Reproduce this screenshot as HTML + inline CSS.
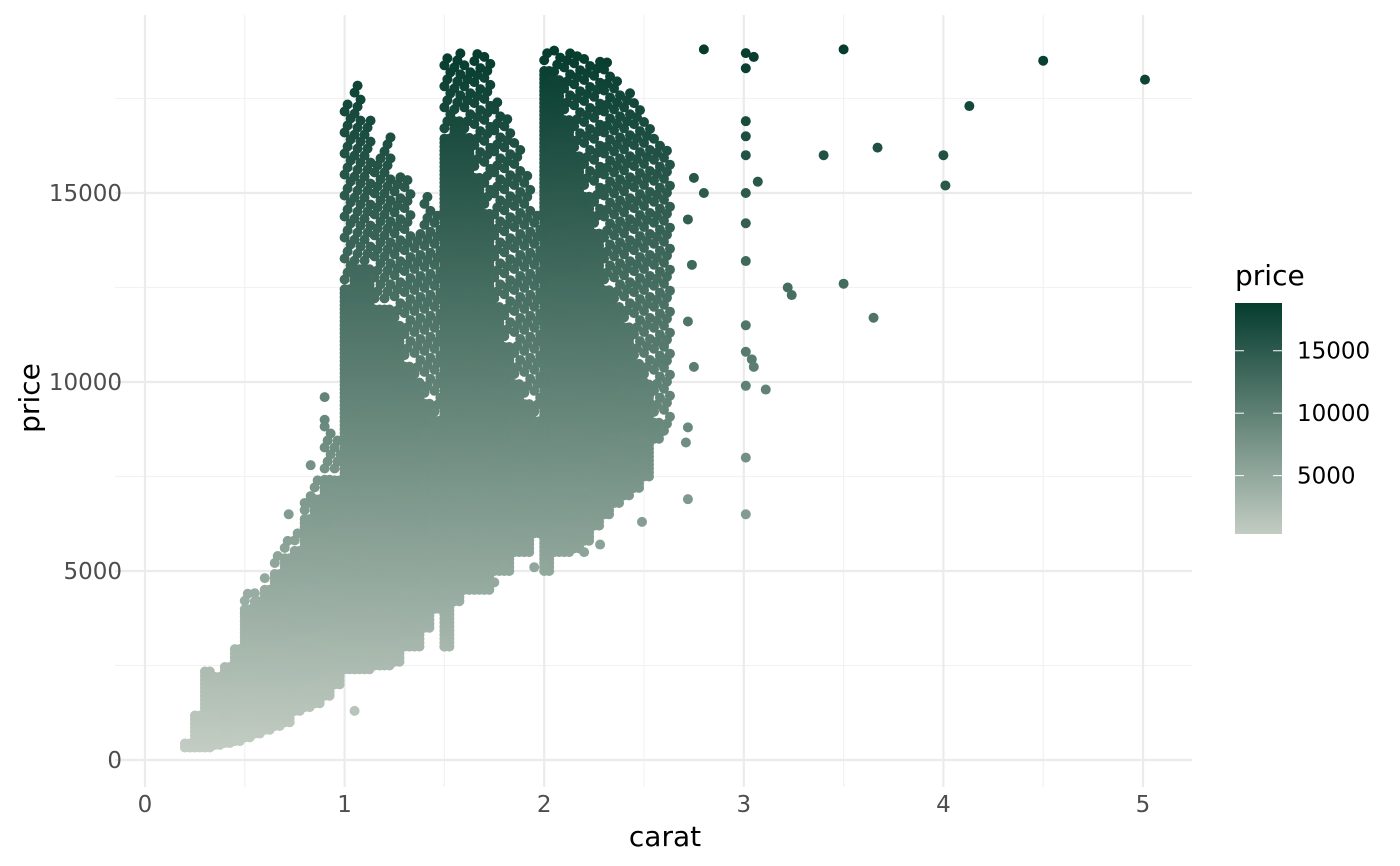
<!DOCTYPE html>
<html><head><meta charset="utf-8"><style>
html,body{margin:0;padding:0;background:#fff;}
svg{display:block;font-family:"DejaVu Sans","Liberation Sans",sans-serif;}
</style></head><body>
<svg id="chart" width="1400" height="866" viewBox="0 0 1400 866">
<defs><linearGradient id="lg" x1="0" y1="1" x2="0" y2="0"><stop offset="0" stop-color="#c2ccc2"/><stop offset="1" stop-color="#053c2e"/></linearGradient></defs>
<g id="grid"></g>
<g id="points"></g>
<g id="axes"></g>
<text x="665" y="846" font-size="28" text-anchor="middle" fill="#000">carat</text>
<text transform="translate(39,398) rotate(-90)" font-size="28" text-anchor="middle" fill="#000">price</text>
<g>
<text x="1235" y="285" font-size="28" fill="#000">price</text>
<rect x="1235" y="303" width="47" height="231" fill="url(#lg)"/>
<g id="legendTicks"></g>
</g>
</svg>
<script>
const xTicks=[0,1,2,3,4,5];
const yTicks=[0,5000,10000,15000];
const bandCarat=[0.2,0.25,0.3,0.35,0.4,0.45,0.5,0.55,0.6,0.65,0.7,0.75,0.8,0.85,0.9,0.95,1.0,1.05,1.1,1.15,1.2,1.25,1.3,1.35,1.4,1.45,1.5,1.55,1.6,1.65,1.7,1.75,1.8,1.85,1.9,1.95,2.0,2.05,2.1,2.15,2.2,2.25,2.3,2.35,2.4,2.45,2.5,2.55,2.6];
const bandMin=[330,330,330,400,450,500,600,700,800,900,1000,1300,1400,1500,1700,2000,2400,2400,2400,2500,2500,2600,3000,3000,3500,4000,3000,4200,4500,4500,4500,5000,5000,5500,5500,6000,5000,5500,5500,5600,5800,6200,6500,6800,7000,7200,7500,8500,9000];
const bandDenseMax=[500,1200,2400,2300,2500,3000,4000,4200,4600,5000,5400,5600,6400,7000,7500,7500,12500,13000,13000,12000,12000,11500,10500,10000,9500,9000,16500,17000,16500,15500,14500,12000,11000,10000,9500,9000,18300,18000,17000,16000,15000,14000,12500,12000,11500,10500,10000,9000,8500];
const bandMax=[500,1200,2400,2300,2500,3000,4400,4500,4900,5500,5800,6000,7000,7500,9000,8500,17500,18000,17000,16000,16500,15500,15500,14000,15000,14500,18700,18700,18500,18700,18700,17500,17000,16500,15500,14500,18800,18800,18800,18800,18700,18600,18500,18000,17800,17500,17000,16500,16300];
const outCarat=[3.01,3.01,3.05,3.5,4.5,5.01,4.13,3.4,3.67,4.0,4.01,3.22,3.24,3.5,3.65,3.01,3.01,3.01,3.01,3.01,3.04,3.05,3.11,3.01,3.01,3.01,2.8,2.75,2.8,2.72,2.74,2.72,2.75,2.72,2.71,2.72,2.49,3.01,3.01,3.01,3.07,2.6,2.6,2.5,2.45,2.5,2.5,2.5,2.33,2.3,2.2,2.28,2.2,2.0,1.95,1.8,1.75,1.5,1.05,0.9,0.9,0.83,0.72,0.8];
const outPrice=[18700,18300,18600,18800,18500,18000,17300,16000,16200,16000,15200,12500,12300,12600,11700,15000,14200,13200,11500,10800,10600,10400,9800,9900,8000,6500,18800,15400,15000,14300,13100,11600,10400,8800,8400,6900,6300,16900,16500,16000,15300,11000,10600,10000,9700,8700,8400,7900,8500,8200,7100,5700,5500,5100,5100,5100,4700,3000,1300,9600,9000,7800,6500,6800];
const legendTicks=[5000,10000,15000];
const pMin=326,pMax=18823;
const NS="http://www.w3.org/2000/svg";
const X=c=>145+c*199.6, Y=p=>760-p*0.0378;
const LY=p=>534-(p-pMin)/(pMax-pMin)*231;
function col(p){let t=Math.max(0,Math.min(1,(p-pMin)/(pMax-pMin)));const a=[194,204,194],b=[5,60,46];return `rgb(${a.map((v,i)=>Math.round(v+(b[i]-v)*t)).join(',')})`;}
function mk(tag,attrs,parent){const e=document.createElementNS(NS,tag);for(const k in attrs)e.setAttribute(k,attrs[k]);parent.appendChild(e);return e;}
const grid=document.getElementById('grid'),pts=document.getElementById('points'),axes=document.getElementById('axes');
for(let c=0.5;c<=5;c+=1){const l=mk('line',{x1:X(c),x2:X(c),y1:15,y2:787,stroke:'#f2f2f2','stroke-width':1.2},grid);}
for(let p=2500;p<=17500;p+=5000){const l=mk('line',{x1:115,x2:1192,y1:Y(p),y2:Y(p),stroke:'#f2f2f2','stroke-width':1.2},grid);}
xTicks.forEach(c=>{const l=mk('line',{x1:X(c),x2:X(c),y1:15,y2:787,stroke:'#ebebeb','stroke-width':2.2},grid);
const t=mk('text',{x:X(c),y:812,'font-size':23,'text-anchor':'middle',fill:'#4d4d4d'},axes);t.textContent=c;});
yTicks.forEach(p=>{const l=mk('line',{x1:115,x2:1192,y1:Y(p),y2:Y(p),stroke:'#ebebeb','stroke-width':2.2},grid);
const t=mk('text',{x:122,y:Y(p)+8,'font-size':23,'text-anchor':'end',fill:'#4d4d4d'},axes);t.textContent=p;});
function dot(x,y,p){const d=mk('circle',{cx:x,cy:y,r:5,fill:col(p)},pts);}
bandCarat.forEach((c,i)=>{
  for(const dc of [0,0.025]){const x=X(c+dc);
    for(let y=Y(bandMin[i]);y>=Y(bandDenseMax[i]);y-=4){dot(x,y,(760-y)/0.0378);}
  }
  let k=0;
  for(let y=Y(bandDenseMax[i])-8;y>=Y(bandMax[i]);y-=7){const x=X(c+((k++%3)*0.015));dot(x,y,(760-y)/0.0378);}
});
outCarat.forEach((c,i)=>dot(X(c),Y(outPrice[i]),outPrice[i]));
const lt=document.getElementById('legendTicks');
legendTicks.forEach(p=>{const y=LY(p);mk('line',{x1:1235,x2:1244,y1:y,y2:y,stroke:'#fff','stroke-width':1},lt);mk('line',{x1:1273,x2:1282,y1:y,y2:y,stroke:'#fff','stroke-width':1},lt);
const t=mk('text',{x:1297,y:y+8,'font-size':23,fill:'#000'},lt);t.textContent=p;});
</script>
</body></html>
